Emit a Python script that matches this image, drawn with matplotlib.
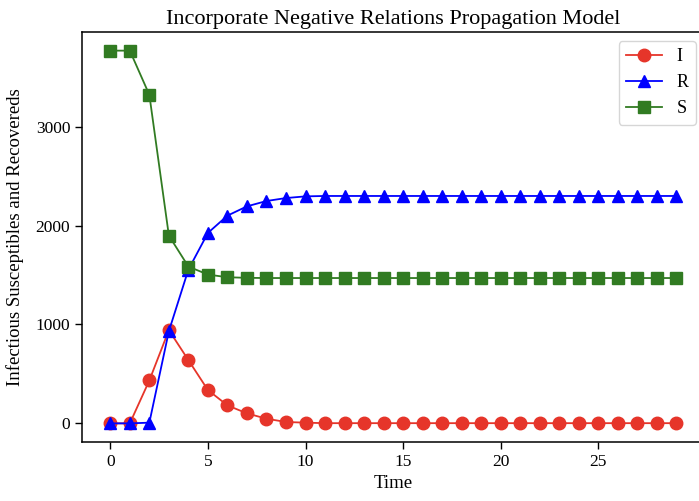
import matplotlib
matplotlib.use("Agg")
import matplotlib.pyplot as plt

plt.rcParams['font.family'] = ['Liberation Serif', 'DejaVu Serif']

time = list(range(30))
I_vals = [0, 0, 434, 943, 640, 337, 182, 101, 47, 14, 7] + [2] * 19
R_vals = [0, 0, 7, 932, 1555, 1926, 2101, 2195, 2249, 2279, 2296] + [2300] * 19
S_vals = [3770, 3770, 3323, 1899, 1586, 1505, 1478, 1472] + [1470] * 22

red = '#e6352a'
blue = '#0000ff'
green = '#317b22'

fig = plt.figure(figsize=(6.99, 5.01), dpi=100)
ax = fig.add_axes([82/699, 1 - 442/501, 622.7/699, 410/501])

ax.plot(time, I_vals, color=red, marker='o', markersize=9, linewidth=1.3, label='I')
ax.plot(time, R_vals, color=blue, marker='^', markersize=9, linewidth=1.3, label='R')
ax.plot(time, S_vals, color=green, marker='s', markersize=8.5, linewidth=1.3, label='S')

ax.set_xlim(-1.45, 30.45)
ax.set_ylim(-188.5, 3958.5)
ax.set_xticks([0, 5, 10, 15, 20, 25])
ax.set_yticks([0, 1000, 2000, 3000])
ax.tick_params(labelsize=12.5, length=5, width=1)
for s in ax.spines.values():
    s.set_linewidth(1.1)

ax.set_title('Incorporate Negative Relations Propagation Model', fontsize=16, pad=6)
ax.set_xlabel('Time', fontsize=13.5, labelpad=4)
ax.set_ylabel('Infectious Susceptibles and Recovereds', fontsize=13.5, labelpad=8)

ax.legend(loc='upper right', fontsize=13)

fig.savefig('out.png', dpi=100)
